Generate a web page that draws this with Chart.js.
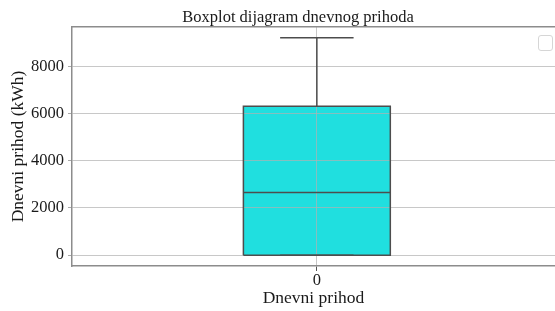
<!DOCTYPE html>
<html><head><meta charset="utf-8">
<script src="https://cdn.jsdelivr.net/npm/chart.js@4"></script>
<style>html,body{margin:0;padding:0;background:#fff;overflow:hidden}#wrap{width:555px;height:311px}</style>
</head><body><div id="wrap"><canvas id="c" width="555" height="311"></canvas></div>
<script>
const chartTitle = 'Boxplot dijagram dnevnog prihoda';
const yAxisTitle = 'Dnevni prihod (kWh)';
const xAxisTitle = 'Dnevni prihod';
const categories = ['0'];
const lowerWhisker = [0];
const q1Values = [0];
const medianValues = [2650];
const q3Values = [6300];
const upperWhisker = [9200];
const yTickValues = [0, 2000, 4000, 6000, 8000];
const yLimits = [-460, 9660];
const xLimits = [-0.5, 0.4863];

const BOX_HALF = 0.15, CAP_HALF = 0.075;
const FILL = '#20dfdf', LINE = '#4d4d4d', GRID = 'rgba(176,176,176,0.7)', SPINE = '#8c8c8c', TEXT = '#1a1a1a';
const SERIF = '"Liberation Serif", "Times New Roman", serif';

const boxPts = [], whiskerPts = [], medianPts = [];
categories.forEach((c, i) => {
  const l = i - BOX_HALF, r = i + BOX_HALF;
  boxPts.push({x:l,y:q1Values[i]},{x:l,y:q3Values[i]},{x:r,y:q3Values[i]},{x:r,y:q1Values[i]},{x:l,y:q1Values[i]},{x:i,y:null});
  whiskerPts.push(
    {x:i,y:q3Values[i]},{x:i,y:upperWhisker[i]},{x:i,y:null},
    {x:i,y:q1Values[i]},{x:i,y:lowerWhisker[i]},{x:i,y:null},
    {x:i-CAP_HALF,y:upperWhisker[i]},{x:i+CAP_HALF,y:upperWhisker[i]},{x:i,y:null},
    {x:i-CAP_HALF,y:lowerWhisker[i]},{x:i+CAP_HALF,y:lowerWhisker[i]},{x:i,y:null});
  medianPts.push({x:l,y:medianValues[i]},{x:r,y:medianValues[i]},{x:i,y:null});
});

const decor = {
  id: 'decor',
  afterDatasetDraw(chart, args) {
    if (args.index !== 0) return;
    const ctx = chart.ctx, sx = chart.scales.x, sy = chart.scales.y;
    ctx.save();
    ctx.beginPath();
    categories.forEach((c, i) => {
      const x1 = sx.getPixelForValue(i - BOX_HALF), x2 = sx.getPixelForValue(i + BOX_HALF);
      const y1 = sy.getPixelForValue(q3Values[i]), y2 = sy.getPixelForValue(q1Values[i]);
      ctx.rect(x1, y1, x2 - x1, y2 - y1);
    });
    ctx.clip();
    sx.drawGrid(chart.chartArea);
    sy.drawGrid(chart.chartArea);
    ctx.restore();
  },
  afterDraw(chart) {
    const ctx = chart.ctx;
    ctx.save();
    ctx.font = '16.5px ' + SERIF;
    ctx.fillStyle = TEXT;
    ctx.textAlign = 'center';
    ctx.textBaseline = 'alphabetic';
    ctx.fillText(chartTitle, 298, 22);
    ctx.beginPath();
    ctx.roundRect(538.5, 35.5, 14, 15, 2.5);
    ctx.fillStyle = 'rgba(255,255,255,0.8)';
    ctx.fill();
    ctx.strokeStyle = '#d6d6d6';
    ctx.lineWidth = 1;
    ctx.stroke();
    ctx.restore();
  }
};

const common = {type:'line', pointRadius:0, pointHoverRadius:0, tension:0, spanGaps:false};
new Chart(document.getElementById('c'), {
  type: 'line',
  data: {
    datasets: [
      Object.assign({}, common, {label:'box', data: boxPts, backgroundColor: FILL, borderColor:'rgba(0,0,0,0)', borderWidth:0, fill:'shape', order:2}),
      Object.assign({}, common, {label:'edge', data: boxPts, borderColor: LINE, borderWidth:1.5, fill:false, order:1}),
      Object.assign({}, common, {label:'whiskers', data: whiskerPts, borderColor: LINE, borderWidth:1.5, fill:false, order:1}),
      Object.assign({}, common, {label:'median', data: medianPts, borderColor: LINE, borderWidth:1.5, fill:false, order:1})
    ]
  },
  options: {
    responsive: false,
    animation: false,
    devicePixelRatio: 1,
    layout: {padding: {top: 27, left: 0, right: 0, bottom: 0}},
    plugins: {legend: {display:false}, tooltip: {enabled:false}, title: {display:false}},
    scales: {
      x: {
        type: 'linear', position: 'bottom', min: xLimits[0], max: xLimits[1],
        afterBuildTicks: s => { s.ticks = categories.map((c, i) => ({value: i})); },
        afterFit: s => { s.height = 45; },
        ticks: {callback: (v, i) => categories[i], font: {family: SERIF, size: 16.5, lineHeight: 1.2}, color: TEXT, padding: 0, maxRotation: 0, autoSkip: false},
        grid: {color: GRID, lineWidth: 1, tickLength: 5, tickColor: '#555555', tickWidth: 1},
        border: {display: true, color: SPINE, width: 1.5},
        title: {display: true, text: xAxisTitle, font: {family: SERIF, size: 17.5, lineHeight: 1.2}, color: TEXT, padding: {top: 0, bottom: 2.3}}
      },
      xTop: {
        type: 'linear', position: 'top', display: true,
        afterFit: s => { s.height = 0; },
        ticks: {display: false},
        grid: {display: false, drawTicks: false},
        border: {display: true, color: SPINE, width: 1.5}
      },
      y: {
        type: 'linear', position: 'left', min: yLimits[0], max: yLimits[1],
        afterBuildTicks: s => { s.ticks = yTickValues.map(v => ({value: v})); },
        afterFit: s => { s.width = 72; },
        ticks: {callback: v => String(v), font: {family: SERIF, size: 16.5}, color: TEXT, padding: 4},
        grid: {color: GRID, lineWidth: 1, tickLength: 4, tickColor: '#a8a8a8', tickWidth: 1},
        border: {display: true, color: SPINE, width: 1.5},
        title: {display: true, text: yAxisTitle, font: {family: SERIF, size: 17.5, lineHeight: 1.2}, color: TEXT, padding: {top: 8, bottom: 0}}
      }
    }
  },
  plugins: [decor]
});
</script></body></html>
